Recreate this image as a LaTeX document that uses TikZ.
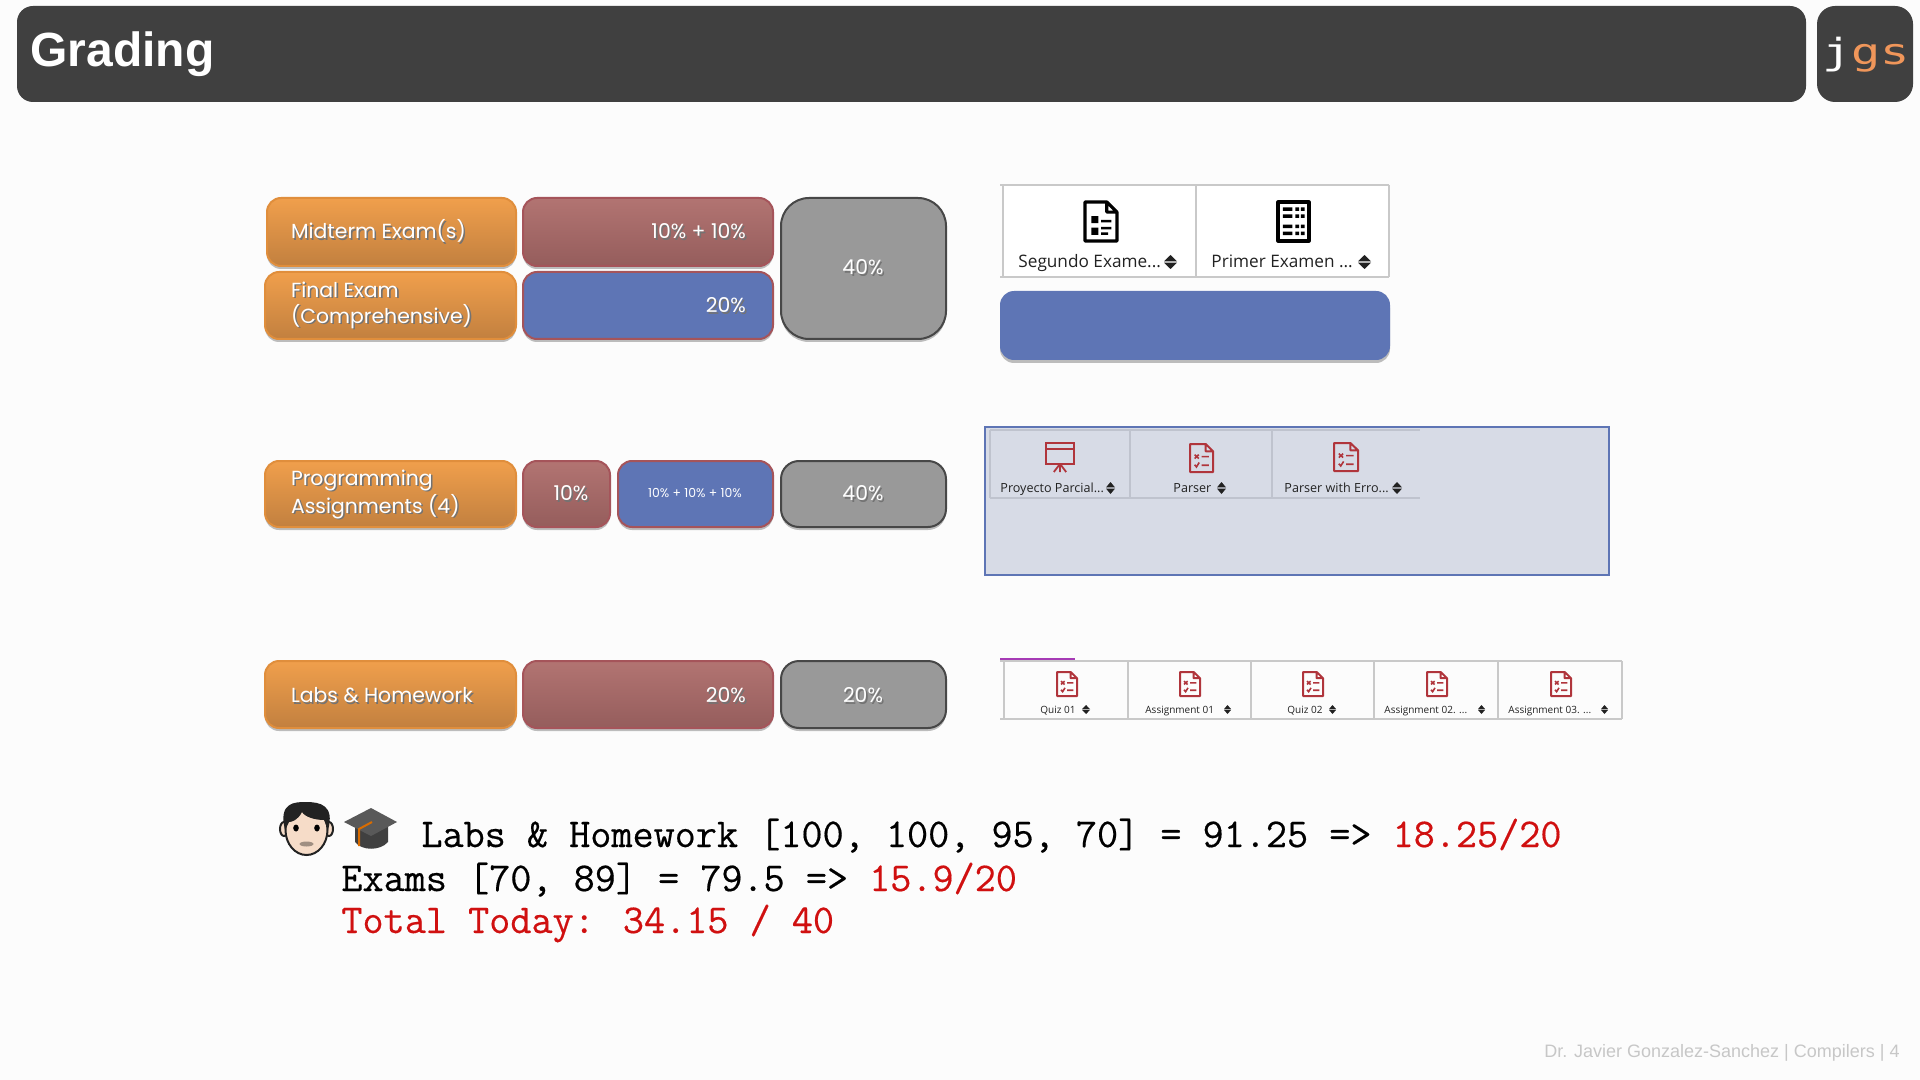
\documentclass[tikz,border=0pt]{standalone}
\usepackage{fontspec}
\usetikzlibrary{shadows}
\setmainfont{Liberation Sans}
\newfontfamily\gothic{Poppins}
\newfontfamily\tabfont{Open Sans}
\newfontfamily\logofont{DejaVu Sans Mono}
\newfontfamily\codefont[FakeBold=0.35]{Latin Modern Mono}
\definecolor{bgc}{HTML}{FCFCFC}
\definecolor{headc}{HTML}{404040}
\definecolor{orT}{HTML}{F09F4C}
\definecolor{orB}{HTML}{C2803F}
\definecolor{orL}{HTML}{E08E3C}
\definecolor{reT}{HTML}{B27472}
\definecolor{reB}{HTML}{955D5C}
\definecolor{reL}{HTML}{A5545A}
\definecolor{blF}{HTML}{5E75B5}
\definecolor{grF}{HTML}{999999}
\definecolor{grL}{HTML}{474747}
\definecolor{panelF}{HTML}{D7DBE6}
\definecolor{tabL}{HTML}{C9C9C9}
\definecolor{tabM}{HTML}{BFC3CE}
\definecolor{iconR}{HTML}{B0353C}
\definecolor{inkc}{HTML}{222222}
\definecolor{codeR}{HTML}{D01010}
\definecolor{logoO}{HTML}{F0965A}
\definecolor{purp}{HTML}{A63BB5}
\definecolor{skin}{HTML}{F6DCC8}
\tikzset{
  x=0.5pt,y=-0.5pt,
  place/.style n args={4}{anchor=north west,at={(#1,#2)},minimum width={(#3-#1)*0.5pt},minimum height={(#4-#2)*0.5pt},inner sep=0pt,outer sep=0pt},
  softshadow/.style={drop shadow={shadow xshift=0pt,shadow yshift=-1.5pt,fill=black,opacity=.25}},
  base/.style={rounded corners=7pt,line width=1pt,text=white,softshadow},
  orbox/.style={base,draw=orL,top color=orT,bottom color=orB},
  rebox/.style={base,draw=reL,top color=reT,bottom color=reB},
  blbox/.style={base,draw=reL,fill=blF},
  grbox/.style={base,draw=grL,fill=grF,rounded corners=9pt},
  labelT/.style={font=\gothic\fontsize{10.2}{13}\selectfont,text=white},
  lefttext/.style={labelT,anchor=west,align=left},
  righttext/.style={labelT,anchor=east,align=right},
  tabT/.style={anchor=base west,inner sep=0pt,text=inkc},
  codeT/.style={anchor=base west,inner sep=0pt,font=\codefont\fontsize{20.5}{24}\selectfont,text=black},
  tabline/.style={draw=tabL,line width=1pt},
  mline/.style={draw=tabM,line width=.8pt},
}
\newcommand{\sh}[1]{\rlap{\kern.8pt\raisebox{-.8pt}{\textcolor{black!55}{#1}}}#1}
% sort arrows: x1 y1 x2 y2
\newcommand{\sortarr}[4]{\fill[inkc] (#1,{#2+0.45*(#4-#2)}) -- ({(#1+#3)/2},#2) -- (#3,{#2+0.45*(#4-#2)}) -- cycle
  (#1,{#2+0.55*(#4-#2)}) -- ({(#1+#3)/2},#4) -- (#3,{#2+0.55*(#4-#2)}) -- cycle;}
% open a unit box x1 y1 w h
\newcommand{\unitbox}[4]{\pgfmathsetlengthmacro\iw{#3*0.5pt}\pgfmathsetlengthmacro\ih{#4*0.5pt}
  \begin{scope}[shift={(#1,#2)},x={(\iw,0pt)},y={(0pt,-\ih)}]}
% page outline with folded corner
\newcommand{\pageoutline}[2]{\draw[#1,line width=#2,line join=round] (0,0) -- (.68,0) -- (1,.26) -- (1,1) -- (0,1) -- cycle (.68,0) -- (.68,.26) -- (1,.26);}
% red quiz document: x y w h
\newcommand{\quizicon}[4]{\unitbox{#1}{#2}{#3}{#4}
  \pageoutline{iconR}{1pt}
  \draw[iconR,line width=.8pt] (.2,.38) -- (.38,.52) (.38,.38) -- (.2,.52) (.5,.45) -- (.82,.45);
  \draw[iconR,line width=.8pt] (.2,.74) -- (.28,.82) -- (.4,.66) (.5,.76) -- (.82,.76);
  \end{scope}}
\begin{document}
\begin{tikzpicture}
\useasboundingbox (0,0) rectangle (1920,1080);
\fill[bgc] (0,0) rectangle (1920,1080);
% header
\node[place={17}{6}{1806}{102},fill=headc,rounded corners=8pt] (header) {};
\node[place={1817}{6}{1913}{102},fill=headc,rounded corners=9pt] (logo) {};
\node[anchor=base west,inner sep=0pt,text=white,font=\bfseries\fontsize{24}{28}\selectfont] (title) at (30,67) {Grading};
\node[anchor=base,inner sep=0pt,font=\logofont\fontsize{18}{20}\selectfont,xscale=1.35,transform shape,text=logoO] (jgs) at (1866,65) {\textcolor{white}{j}gs};
% row 1
\node[place={267}{198}{516}{266},orbox] (mid) {};
\node[lefttext] (midT) at (284,232) {\sh{Midterm Exam(s)}};
\node[place={265}{272}{516}{339},orbox] (fin) {};
\node[lefttext] (finT) at (284,306) {\sh{Final Exam}\\\sh{(Comprehensive)}};
\node[place={523}{198}{773}{266},rebox] (r1) {};
\node[righttext] (r1T) at (753,232) {\sh{10\% + 10\%}};
\node[place={523}{272}{773}{339},blbox] (b1) {};
\node[righttext] (b1T) at (753,306) {\sh{20\%}};
\node[place={781}{198}{946}{339},grbox,rounded corners=14pt] (g1) {};
\node[labelT] (g1T) at (863,268) {\sh{40\%}};
% row 2
\node[place={265}{461}{516}{527},orbox] (prog) {};
\node[lefttext] (progT) at (284,495) {\sh{Programming}\\\sh{Assignments (4)}};
\node[place={523}{461}{610}{527},rebox] (r2) {};
\node[labelT] (r2T) at (571,494) {\sh{10\%}};
\node[place={618}{461}{773}{527},blbox] (b2) {};
\node[labelT,font=\gothic\fontsize{6.2}{8}\selectfont,text=white] (b2T) at (695,493) {10\% + 10\% + 10\%};
\node[place={781}{461}{946}{527},grbox] (g2) {};
\node[labelT] (g2T) at (863,494) {\sh{40\%}};
% row 3
\node[place={265}{661}{516}{728},orbox] (labs) {};
\node[lefttext] (labsT) at (284,696) {\sh{Labs \& Homework}};
\node[place={523}{661}{773}{728},rebox] (r3) {};
\node[righttext] (r3T) at (753,696) {\sh{20\%}};
\node[place={781}{661}{946}{728},grbox] (g3) {};
\node[labelT] (g3T) at (863,696) {\sh{20\%}};
% top table
\fill[white] (1003,185) rectangle (1389,277);
\draw[tabline] (1000,185) -- (1389,185) (1000,277) -- (1389,277) (1003,185) -- (1003,277) (1196,185) -- (1196,277) (1389,185) -- (1389,277);
\unitbox{1085}{202}{32}{39}
  \pageoutline{black}{1.6pt}
  \fill[black] (.2,.36) rectangle (.42,.54) (.2,.66) rectangle (.42,.84);
  \fill[black] (.5,.46) rectangle (.82,.52) (.5,.64) rectangle (.82,.7) (.5,.78) rectangle (.72,.84);
\end{scope}
\unitbox{1278}{202}{31}{39}
  \draw[black,line width=1.6pt,line join=round] (0,0) rectangle (1,1);
  \foreach \yy in {.14,.32,.58,.76}{\fill[black] (.16,\yy) rectangle (.46,{\yy+.09}) (.56,\yy) rectangle (.68,{\yy+.09}) (.74,\yy) rectangle (.86,{\yy+.09});}
\end{scope}
\node[tabT,font=\tabfont\fontsize{8.6}{10}\selectfont] (t1a) at (1018,268) {Segundo Exame...};
\sortarr{1164}{255}{1177}{269}
\node[tabT,font=\tabfont\fontsize{8.6}{10}\selectfont] (t1b) at (1211,268) {Primer Examen ...};
\sortarr{1358}{255}{1371}{269}
\node[place={1000}{291}{1390}{360},fill=blF,rounded corners=7pt,softshadow] (blueblock) {};
% middle panel
\node[place={985}{427}{1609}{575},fill=panelF,draw=blF,line width=1pt] (panel) {};
\draw[mline] (990,430) -- (1420,430) (990,498) -- (1420,498) (990,430) -- (990,498) (1130,430) -- (1130,498) (1272,430) -- (1272,498);
\unitbox{1046}{443}{28}{29}
  \draw[iconR,line width=1pt] (0,0) rectangle (1,.72);
  \draw[iconR,line width=1pt] (0,.22) -- (1,.22);
  \draw[iconR,line width=.9pt] (.5,.72) -- (.28,1) (.5,.72) -- (.72,1) (.5,.72) -- (.5,1);
\end{scope}
\quizicon{1190}{444}{23}{28}
\quizicon{1334}{443}{24}{28}
\node[tabT,font=\tabfont\fontsize{6.3}{8}\selectfont] (t2a) at (1000,492) {Proyecto Parcial...};
\sortarr{1106}{482}{1115}{494}
\node[tabT,font=\tabfont\fontsize{6.3}{8}\selectfont] (t2b) at (1173,492) {Parser};
\sortarr{1217}{482}{1226}{494}
\node[tabT,font=\tabfont\fontsize{6.3}{8}\selectfont] (t2c) at (1284,492) {Parser with Erro...};
\sortarr{1392}{482}{1402}{494}
% bottom tabs
\draw[purp,line width=1.2pt] (1000,659) -- (1075,659);
\draw[tabL,line width=1pt] (1000,661) -- (1622,661);
\draw[tabL,line width=1.2pt] (1000,719) -- (1622,719);
\draw[tabL,line width=.6pt] (1004,661) -- (1004,719) (1128,661) -- (1128,719) (1251,661) -- (1251,719) (1374,661) -- (1374,719) (1498,661) -- (1498,719) (1622,661) -- (1622,719);
\quizicon{1057}{672}{20}{24}
\quizicon{1180}{672}{20}{24}
\quizicon{1303}{672}{20}{24}
\quizicon{1427}{672}{20}{24}
\quizicon{1551}{672}{20}{24}
\node[tabT,font=\tabfont\fontsize{5}{6}\selectfont] (q1) at (1040,713) {Quiz 01};
\sortarr{1082}{705}{1090}{714}
\node[tabT,font=\tabfont\fontsize{5}{6}\selectfont] (q2) at (1145,713) {Assignment 01};
\sortarr{1224}{705}{1231}{714}
\node[tabT,font=\tabfont\fontsize{5}{6}\selectfont] (q3) at (1287,713) {Quiz 02};
\sortarr{1329}{705}{1336}{714}
\node[tabT,font=\tabfont\fontsize{5}{6}\selectfont] (q4) at (1384,713) {Assignment 02. ...};
\sortarr{1478}{705}{1485}{714}
\node[tabT,font=\tabfont\fontsize{5}{6}\selectfont] (q5) at (1508,713) {Assignment 03. ...};
\sortarr{1601}{705}{1608}{714}
% face
\fill[skin,draw=inkc,line width=1pt] (284,829) circle[x radius=4,y radius=7];
\fill[skin,draw=inkc,line width=1pt] (329,829) circle[x radius=4,y radius=7];
\fill[skin,draw=inkc,line width=1pt] (306.5,830) ellipse[x radius=21,y radius=25];
\fill[inkc] (285,830) .. controls (278,802) and (295,802) .. (306,802) .. controls (320,802) and (335,805) .. (328,830) -- (324,820) .. controls (315,820) and (305,817) .. (302,812) .. controls (298,820) and (292,822) .. (289,822) -- cycle;
\fill[black] (296,828) ellipse[x radius=2.8,y radius=3.5] (317,828) ellipse[x radius=2.8,y radius=3.5];
\fill[black!60] (296,816) -- (296,816);
\fill[black!35!skin] (306.5,844) ellipse[x radius=7,y radius=2.5];
% cap
\fill[black!75] (355,826) -- (355,842) .. controls (362,851) and (380,851) .. (388,842) -- (388,826) -- cycle;
\fill[black!65] (344,822) -- (371,808) -- (397,822) -- (371,836) -- cycle;
\draw[orange!85!black,line width=1pt] (372,822) -- (359,829) -- (359,846);
% grade text
\node[codeT] (l1) at (421,847) {Labs \& Homework [100, 100, 95, 70] = 91.25 => \textcolor{codeR}{18.25/20}};
\node[codeT] (l2) at (341,891) {Exams [70, 89] = 79.5 => \textcolor{codeR}{15.9/20}};
\node[codeT,text=codeR] (l3) at (341,933) {Total Today: 34.15 / 40};
% footer
\node[anchor=base east,inner sep=0pt,text=black!22,font=\fontsize{9}{11}\selectfont] (foot) at (1900,1057) {Dr. Javier Gonzalez-Sanchez | Compilers | 4};
\end{tikzpicture}
\end{document}
